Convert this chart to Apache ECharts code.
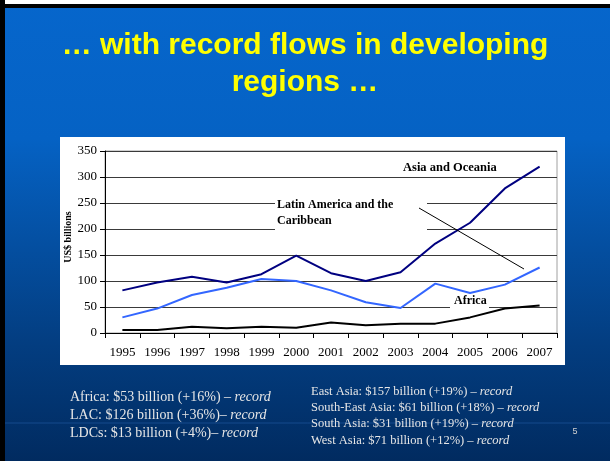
<!DOCTYPE html>
<html><head><meta charset="utf-8">
<script src="https://cdn.jsdelivr.net/npm/echarts@6/dist/echarts.min.js"></script>
<style>html,body{margin:0;padding:0;background:#fff}#c{width:610px;height:461px}</style>
</head><body><div id="c"></div>
<script>
// ---- data ----
const years = ['1995','1996','1997','1998','1999','2000','2001','2002','2003','2004','2005','2006','2007'];
const asiaOceania = [82, 97, 108, 97, 113, 149, 115, 100, 117, 172, 212, 278, 320];
const latinAmerica = [30, 47, 73, 87, 104, 100, 82, 59, 48, 95, 77, 93, 126];
const africa = [6, 6, 12, 9, 12, 10, 20, 15, 18, 18, 30, 47, 53];
const yMin = 0, yMax = 350, yStep = 50;
const yAxisTitle = 'US$ billions';

const titleLines = ['… with record flows in developing', 'regions …'];
const leftNotes = [
  ['Africa: $53 billion (+16%) – ', 'record'],
  ['LAC: $126 billion (+36%)– ', 'record'],
  ['LDCs: $13 billion (+4%)– ', 'record']
];
const rightNotes = [
  ['East Asia: $157 billion (+19%) – ', 'record'],
  ['South-East Asia: $61 billion (+18%) – ', 'record'],
  ['South Asia: $31 billion (+19%) – ', 'record'],
  ['West Asia: $71 billion (+12%) – ', 'record']
];

const serif = '"Liberation Serif", "DejaVu Serif", serif';
const sans = '"Liberation Sans", Arial, sans-serif';

const chart = echarts.init(document.getElementById('c'), null, {renderer: 'canvas'});

const elements = [];
// background
elements.push({type:'rect', z:-100, shape:{x:0,y:0,width:610,height:461},
  style:{fill:{type:'linear',x:0,y:0,x2:0,y2:1,colorStops:[
    {offset:0,color:'#0666cc'},{offset:0.3,color:'#0562c4'},{offset:0.75,color:'#033d80'},{offset:1,color:'#012b60'}]}}});
elements.push({type:'rect', z:-99, shape:{x:0,y:0,width:610,height:4}, style:{fill:'#ffffff'}});
elements.push({type:'rect', z:-99, shape:{x:0,y:4,width:610,height:4}, style:{fill:'#000000'}});
elements.push({type:'rect', z:-99, shape:{x:0,y:0,width:5,height:461}, style:{fill:'#000000'}});
elements.push({type:'line', z:-98, shape:{x1:5,y1:423,x2:610,y2:423}, style:{stroke:'rgba(60,120,210,0.35)', lineWidth:1}});
// chart white panel
elements.push({type:'rect', z:-50, shape:{x:60,y:137,width:505,height:228}, style:{fill:'#ffffff'}});
// title
titleLines.forEach((t,i)=>{
  elements.push({type:'text', z:20, x:305, y:i===0?46:83, style:{text:t, font:'bold 30px ' + sans, fill:'#ffff00',
    align:'center', verticalAlign:'middle', textShadowColor:'rgba(0,0,0,0.85)', textShadowOffsetX:2, textShadowOffsetY:2, textShadowBlur:0}});
});
// y axis title
elements.push({type:'text', z:6, x:68, y:237, rotation:Math.PI/2, style:{text:yAxisTitle, font:'bold 10px ' + serif, fill:'#000', align:'center', verticalAlign:'middle'}});
// series labels
elements.push({type:'rect', z:1, shape:{x:275,y:196,width:152,height:36}, style:{fill:'#ffffff'}});
elements.push({type:'text', z:6, x:277, y:205, style:{text:'Latin America and the', font:'bold 12px ' + serif, fill:'#000', verticalAlign:'middle'}});
elements.push({type:'text', z:6, x:277, y:221, style:{text:'Caribbean', font:'bold 12px ' + serif, fill:'#000', verticalAlign:'middle'}});
elements.push({type:'text', z:6, x:403, y:168, style:{text:'Asia and Oceania', font:'bold 12.5px ' + serif, fill:'#000', verticalAlign:'middle'}});
elements.push({type:'rect', z:1, shape:{x:450,y:294,width:39,height:14}, style:{fill:'#ffffff'}});
elements.push({type:'text', z:6, x:454, y:301, style:{text:'Africa', font:'bold 12px ' + serif, fill:'#000', verticalAlign:'middle'}});
elements.push({type:'line', z:6, shape:{x1:419,y1:208,x2:524,y2:269}, style:{stroke:'#000', lineWidth:1}});
// notes
function note(x, y, pair, size){
  elements.push({type:'text', z:20, x:x, y:y, style:{
    text:'{n|' + pair[0] + '}{i|' + pair[1] + '}', verticalAlign:'middle',
    rich:{n:{font: size + 'px ' + serif, fill:'#e6e6e6'}, i:{font:'italic ' + size + 'px ' + serif, fill:'#e6e6e6'}}}});
}
leftNotes.forEach((p,i)=>note(70, 397 + i*18.3, p, 14));
rightNotes.forEach((p,i)=>note(311, 392 + i*16.1, p, 12.5));
elements.push({type:'text', z:20, x:575, y:432, style:{text:'5', font:'9px ' + sans, fill:'#d0d0d0', align:'center', verticalAlign:'middle'}});

chart.setOption({
  animation:false,
  grid:{left:105, right:53, top:151, bottom:128, show:true, borderColor:'#a0a0a0', borderWidth:1, backgroundColor:'transparent'},
  xAxis:{type:'category', data:years, boundaryGap:true,
    axisLine:{lineStyle:{color:'#000', width:1}},
    axisTick:{show:true, length:5, lineStyle:{color:'#000'}},
    axisLabel:{color:'#000', fontFamily:serif, fontSize:13, margin:13},
    splitLine:{show:false}},
  yAxis:{type:'value', min:yMin, max:yMax, interval:yStep,
    axisLine:{show:true, lineStyle:{color:'#000', width:1}},
    axisTick:{show:true, length:5, lineStyle:{color:'#000'}},
    axisLabel:{color:'#000', fontFamily:serif, fontSize:13, margin:8},
    splitLine:{show:true, lineStyle:{color:'#3a3a3a', width:1}}},
  series:[
    {name:'Asia and Oceania', type:'line', z:3, data:asiaOceania, symbol:'none', lineStyle:{color:'#000080', width:2}},
    {name:'Latin America and the Caribbean', type:'line', z:3, data:latinAmerica, symbol:'none', lineStyle:{color:'#3366ff', width:2}},
    {name:'Africa', type:'line', z:3, data:africa, symbol:'none', lineStyle:{color:'#000000', width:2}}
  ],
  graphic:{elements:elements}
});
</script>
</body></html>
